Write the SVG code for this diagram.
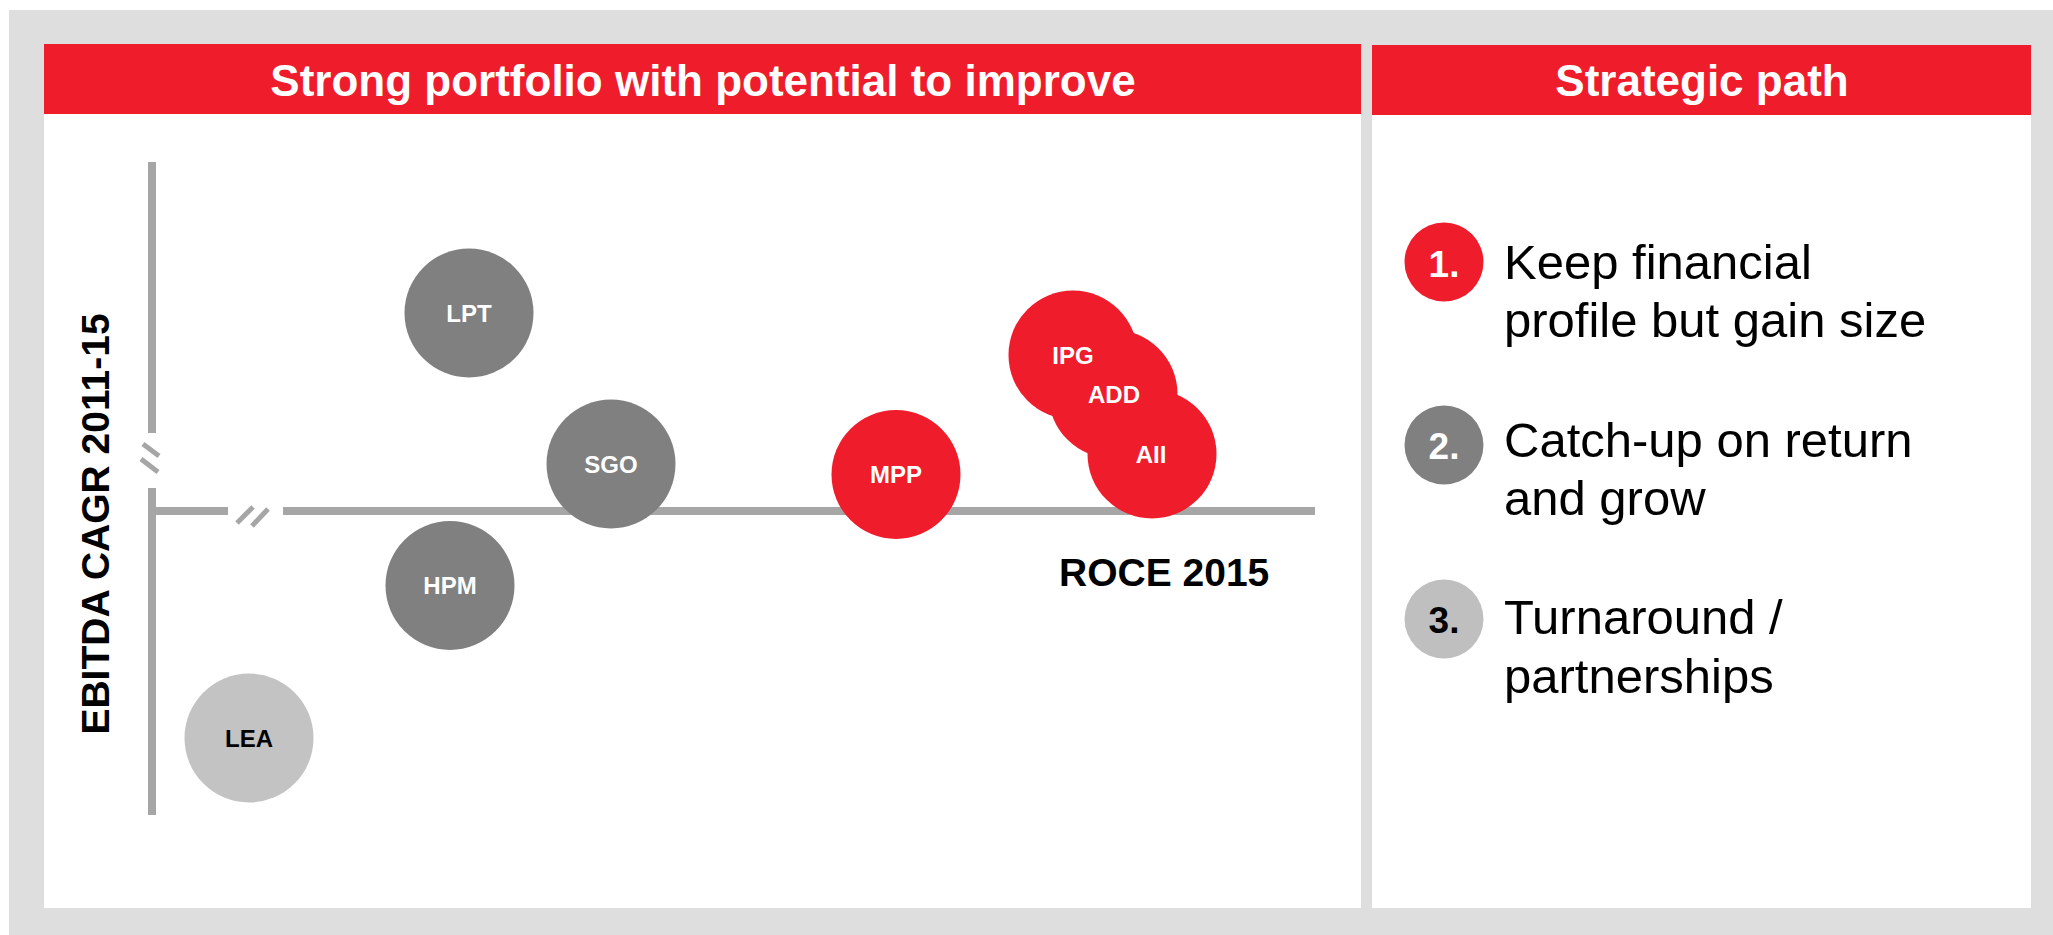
<svg xmlns="http://www.w3.org/2000/svg" width="2053" height="935" viewBox="0 0 2053 935">
<style>
.hdr{fill:#EF1C2C}
.htxt{font-family:"Liberation Sans",Arial,sans-serif;font-weight:bold;font-size:44px;fill:#fff;text-anchor:middle}
.axis{stroke:#A6A6A6;stroke-width:8;fill:none}
.brk{stroke:#A6A6A6;stroke-width:5;fill:none}
.red{fill:#EF1C2C}
.dark{fill:#808080}
.light{fill:#C3C3C3}
.lbl{font-family:"Liberation Sans",Arial,sans-serif;font-weight:bold;font-size:24px;text-anchor:middle;fill:#fff}
.lbl.blk{fill:#000}
.axt{font-family:"Liberation Sans",Arial,sans-serif;font-weight:bold;font-size:39px;fill:#000}
.num{font-family:"Liberation Sans",Arial,sans-serif;font-weight:bold;font-size:37px;text-anchor:middle;fill:#fff}
.item{font-family:"Liberation Sans",Arial,sans-serif;font-size:49px;fill:#000}
</style>
<rect x="0" y="0" width="2053" height="935" fill="#fff"/>
<rect x="9" y="10" width="2044" height="925" fill="#DEDEDE"/>
<g id="panel-left">
<rect x="44" y="44" width="1317" height="864" fill="#fff"/>
<rect class="hdr" x="44" y="44" width="1317" height="70"/>
<text class="htxt" x="703" y="96">Strong portfolio with potential to improve</text>
</g>
<g id="panel-right">
<rect x="1372" y="45" width="659" height="863" fill="#fff"/>
<rect class="hdr" x="1372" y="45" width="659" height="70"/>
<text class="htxt" x="1702" y="96">Strategic path</text>
</g>
<g id="connectors">
<line class="axis" x1="152" y1="162" x2="152" y2="433"/>
<line class="axis" x1="152" y1="488" x2="152" y2="815"/>
<line class="axis" x1="152" y1="511" x2="228" y2="511"/>
<line class="axis" x1="283" y1="511" x2="1315" y2="511"/>
<line class="brk" x1="143" y1="444" x2="159" y2="456"/>
<line class="brk" x1="141" y1="459" x2="158" y2="472"/>
<line class="brk" x1="237" y1="523" x2="253" y2="507"/>
<line class="brk" x1="252" y1="526" x2="268" y2="509"/>
</g>
<text class="axt" transform="translate(109,524) rotate(-90)" text-anchor="middle">EBITDA CAGR 2011-15</text>
<text class="axt" x="1059" y="586">ROCE 2015</text>
<g id="node-LPT"><circle class="dark" cx="469" cy="313" r="64.5"/><text class="lbl" x="469" y="321.5">LPT</text></g>
<g id="node-SGO"><circle class="dark" cx="611" cy="464" r="64.5"/><text class="lbl" x="611" y="472.5">SGO</text></g>
<g id="node-HPM"><circle class="dark" cx="450" cy="585.5" r="64.5"/><text class="lbl" x="450" y="594">HPM</text></g>
<g id="node-LEA"><circle class="light" cx="249" cy="738" r="64.5"/><text class="lbl blk" x="249" y="746.5">LEA</text></g>
<g id="node-MPP"><circle class="red" cx="896" cy="474.5" r="64.5"/><text class="lbl" x="896" y="483">MPP</text></g>
<g id="node-IPG"><circle class="red" cx="1073" cy="355" r="64.5"/></g>
<g id="node-ADD"><circle class="red" cx="1113" cy="394" r="64.5"/></g>
<g id="node-AII"><circle class="red" cx="1152" cy="454" r="64.5"/></g>
<g id="labels-cluster">
<text class="lbl" x="1073" y="364">IPG</text>
<text class="lbl" x="1114" y="403">ADD</text>
<text class="lbl" x="1151" y="463">AII</text>
</g>
<g id="item-1"><circle class="red" cx="1444" cy="262" r="39.5"/><text class="num" x="1444" y="277">1.</text>
<text class="item" x="1504" y="279">Keep financial</text><text class="item" x="1504" y="337">profile but gain size</text></g>
<g id="item-2"><circle class="dark" cx="1444" cy="445" r="39.5"/><text class="num" x="1444" y="459">2.</text>
<text class="item" x="1504" y="457">Catch-up on return</text><text class="item" x="1504" y="515">and grow</text></g>
<g id="item-3"><circle fill="#BFBFBF" cx="1444" cy="619" r="39.5"/><text class="num" x="1444" y="633" fill="#000" style="fill:#000">3.</text>
<text class="item" x="1504" y="634">Turnaround /</text><text class="item" x="1504" y="693">partnerships</text></g>
</svg>
